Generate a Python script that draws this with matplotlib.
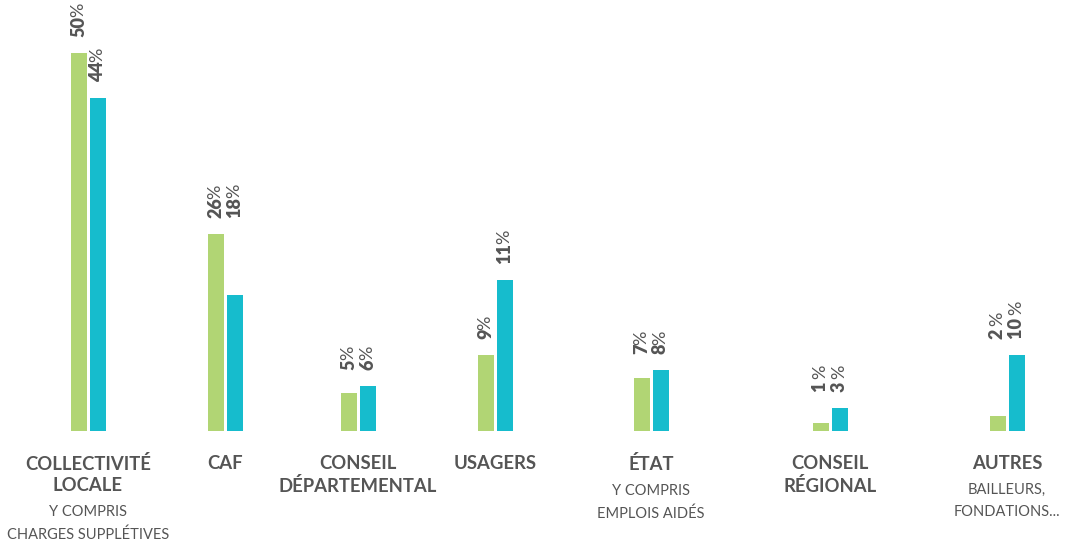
import matplotlib
matplotlib.use("Agg")
import matplotlib.pyplot as plt

# data
categories = ["COLLECTIVITÉ\nLOCALE", "CAF", "CONSEIL\nDÉPARTEMENTAL", "USAGERS",
              "ÉTAT", "CONSEIL\nRÉGIONAL", "AUTRES"]
sublabels = ["Y COMPRIS\nCHARGES SUPPLÉTIVES", "", "", "", "Y COMPRIS\nEMPLOIS AIDÉS",
             "", "BAILLEURS,\nFONDATIONS..."]
green_vals = [50, 26, 5, 10, 7, 1, 2]
teal_vals = [44, 18, 6, 20, 8, 3, 10]
green_labels = ["50", "26", "5", "9", "7", "1 ", "2 "]
teal_labels = ["44", "18", "6", "11", "8", "3 ", "10 "]

# layout
group_x = [88, 225, 358, 495, 651, 830, 1007]
aligned = [False, True, True, False, True, True, True]
GREEN = "#b1d574"
TEAL = "#16bccd"
GREY = "#555555"
FONT = "Lato"

fig = plt.figure(figsize=(10.7, 5.45), dpi=100)
ax = fig.add_axes([0, 114 / 545, 1, 416 / 545])
ax.set_xlim(0, 1070)
ax.set_ylim(0, 55)
ax.axis("off")

bw = 16
off = 9.5
for i, x in enumerate(group_x):
    g, t = green_vals[i], teal_vals[i]
    ax.bar(x - off, g, width=bw, color=GREEN)
    ax.bar(x + off, t, width=bw, color=TEAL)
    top = max(g, t)
    for dx, v, lab in ((-off, g, green_labels[i]), (off, t, teal_labels[i])):
        y = top if aligned[i] else v
        num = ax.annotate(lab, xy=(x + dx, y), xytext=(0, 16), textcoords="offset pixels",
                          rotation=90, ha="center", va="bottom", fontsize=13,
                          fontweight="heavy", color=GREY, family=FONT,
                          annotation_clip=False)
        ax.annotate("%", xy=(0.5, 1), xycoords=num, xytext=(0, -1),
                    textcoords="offset pixels", rotation=90, ha="center", va="bottom",
                    fontsize=13, color=GREY, family=FONT, annotation_clip=False)

    main = ax.annotate(categories[i], xy=(x, 0), xytext=(0, -24), textcoords="offset pixels",
                       ha="center", va="top", fontsize=13.3, fontweight="bold",
                       color=GREY, family=FONT, linespacing=1.3, annotation_clip=False)
    if sublabels[i]:
        ax.annotate(sublabels[i], xy=(0.5, 0), xycoords=main, xytext=(0, -11),
                    textcoords="offset pixels", ha="center", va="top", fontsize=10.5,
                    color=GREY, family=FONT, linespacing=1.75, annotation_clip=False)

fig.savefig("out.png", dpi=100, facecolor="white")
